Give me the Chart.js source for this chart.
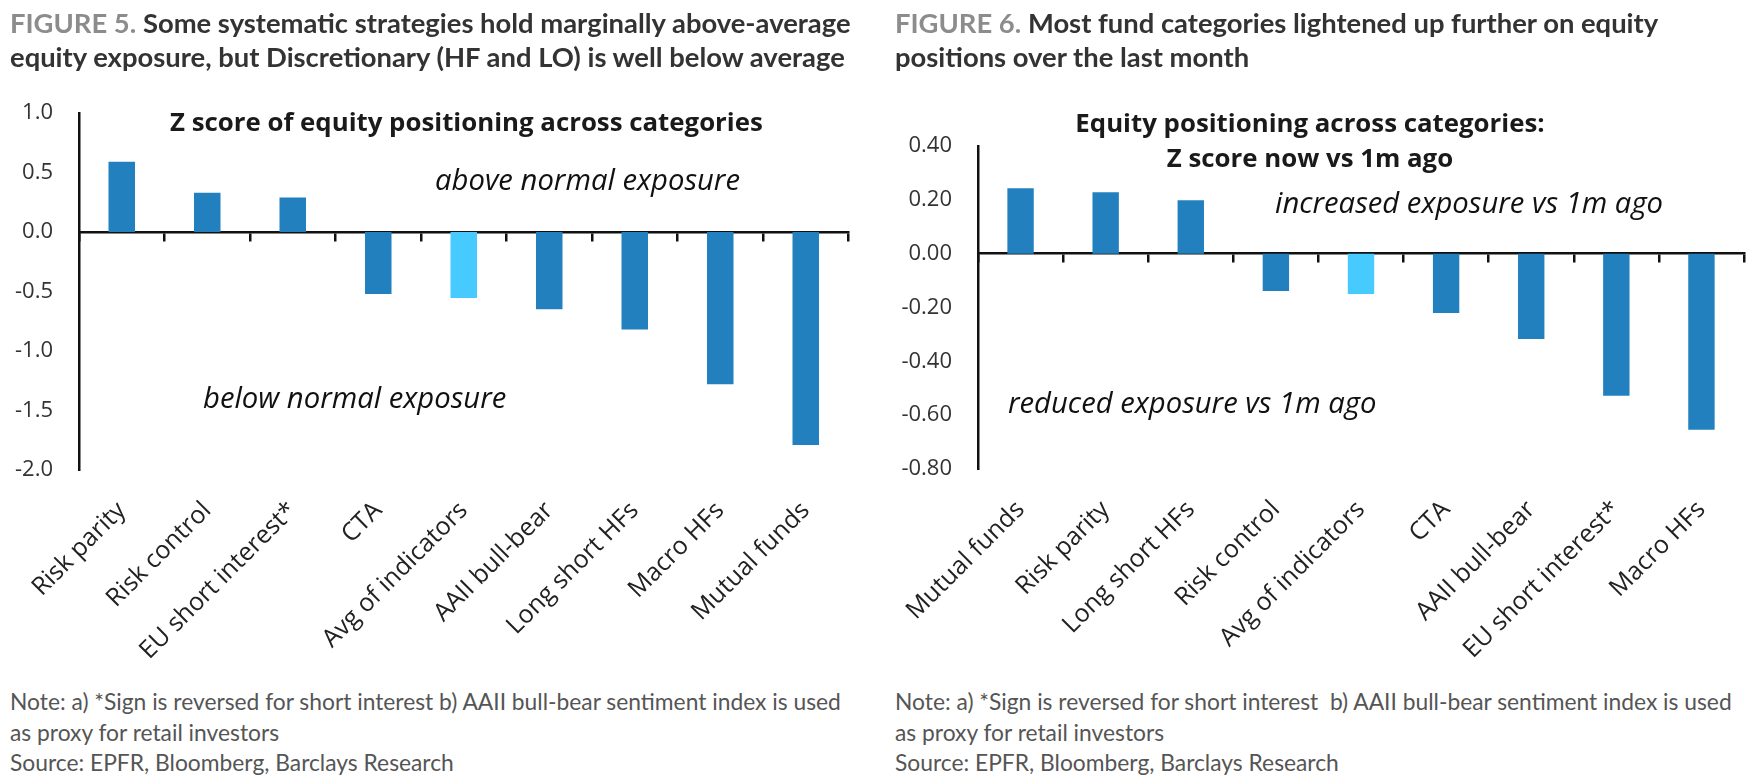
<!DOCTYPE html>
<html>
<head>
<meta charset="utf-8">
<script src="https://cdn.jsdelivr.net/npm/chart.js@4.4.1/dist/chart.umd.min.js"></script>
<style>
  html, body { margin:0; padding:0; background:#fff; }
  body { width:1756px; height:784px; position:relative; overflow:hidden; }
  .t { position:absolute; white-space:nowrap; line-height:1; transform:translateY(-50%); }
  .title { font-family:"Lato", "Roboto", sans-serif; font-weight:700; color:#333; }
  .title .fig { color:#8c8c8c; }
  .inner { font-family:"Open Sans", sans-serif; font-weight:700; color:#1a1a1a; }
  .ann { font-family:"Open Sans", sans-serif; font-style:italic; color:#111; }
  .note { font-family:"Lato", sans-serif; color:#555; }
  canvas { position:absolute; top:0; }
</style>
</head>
<body>
<canvas id="c1" width="870" height="670" style="left:0px;width:870px;height:670px"></canvas>
<canvas id="c2" width="876" height="670" style="left:880px;width:876px;height:670px"></canvas>

<div class="t title" id="t1a" style="left:10px;top:23px"><span class="fig">FIGURE 5.</span> Some systematic strategies hold marginally above-average</div>
<div class="t title" id="t1b" style="left:10px;top:57px">equity exposure, but Discretionary (HF and LO) is well below average</div>
<div class="t title" id="t2a" style="left:895px;top:23px"><span class="fig">FIGURE 6.</span> Most fund categories lightened up further on equity</div>
<div class="t title" id="t2b" style="left:895px;top:57px">positions over the last month</div>

<div class="t inner" id="i1" style="left:170px;top:122px">Z score of equity positioning across categories</div>
<div class="t inner" id="i2a" style="left:1310px;top:123px">Equity positioning across categories:</div>
<div class="t inner" id="i2b" style="left:1310px;top:158px">Z score now vs 1m ago</div>

<div class="t ann" id="a1" style="left:435px;top:180px">above normal exposure</div>
<div class="t ann" id="a2" style="left:203px;top:398px">below normal exposure</div>
<div class="t ann" id="a3" style="left:1275px;top:203px">increased exposure vs 1m ago</div>
<div class="t ann" id="a4" style="left:1008px;top:403px">reduced exposure vs 1m ago</div>

<div class="t note" id="n1" style="left:10px;top:701px">Note: a) *Sign is reversed for short interest b) AAII bull-bear sentiment index is used</div>
<div class="t note" id="n2" style="left:10px;top:732px">as proxy for retail investors</div>
<div class="t note" id="n3" style="left:10px;top:762px">Source: EPFR, Bloomberg, Barclays Research</div>
<div class="t note" id="n4" style="left:895px;top:701px">Note: a) *Sign is reversed for short interest&nbsp; b) AAII bull-bear sentiment index is used</div>
<div class="t note" id="n5" style="left:895px;top:732px">as proxy for retail investors</div>
<div class="t note" id="n6" style="left:895px;top:762px">Source: EPFR, Bloomberg, Barclays Research</div>

<script>
// ---- data ----
const categories1 = ['Risk parity','Risk control','EU short interest*','CTA','Avg of indicators','AAII bull-bear','Long short HFs','Macro HFs','Mutual funds'];
const values1 = [0.59, 0.33, 0.29, -0.52, -0.555, -0.65, -0.82, -1.28, -1.79];
const yMin1 = -2.0, yMax1 = 1.0, yStep1 = 0.5;

const categories2 = ['Mutual funds','Risk parity','Long short HFs','Risk control','Avg of indicators','CTA','AAII bull-bear','EU short interest*','Macro HFs'];
const values2 = [0.243, 0.228, 0.198, -0.139, -0.15, -0.22, -0.317, -0.528, -0.654];
const yMin2 = -0.8, yMax2 = 0.4, yStep2 = 0.2;

const highlight = 'Avg of indicators';

// ---- text fitting ----
function fitSize(id, width, base) {
  const el = document.getElementById(id);
  el.style.fontSize = base + 'px';
  const w = el.getBoundingClientRect().width;
  return base * width / w;
}
function setSize(ids, size) { ids.forEach(id => document.getElementById(id).style.fontSize = size + 'px'); }
setSize(['t1a','t1b','t2a','t2b'], fitSize('t1a', 841, 26));
setSize(['i1','i2a','i2b'], fitSize('i1', 593, 24));
setSize(['a1','a2','a3','a4'], fitSize('a1', 305, 26));
setSize(['n1','n2','n3','n4','n5','n6'], fitSize('n1', 831, 21));
['i2a','i2b'].forEach(id => {
  const el = document.getElementById(id);
  el.style.transform = 'translate(-50%,-50%)';
});

// ---- charts ----
const DARK = '#2180BD', LIGHT = '#47CBFF';
Chart.defaults.font.family = '"Open Sans", sans-serif';
Chart.defaults.color = '#333';

function makeChart(id, cats, vals, yMin, yMax, yStep, decimals, yAxisWidth, padRight, padTop, xHeight) {
  const colors = cats.map(c => c === highlight ? LIGHT : DARK);
  return new Chart(document.getElementById(id), {
    type: 'bar',
    data: {
      labels: cats,
      datasets: [{ data: vals, backgroundColor: colors, borderWidth: 0,
                   categoryPercentage: 1.0, barPercentage: 0.31, xAxisID: 'x', yAxisID: 'y' }]
    },
    options: {
      responsive: false, animation: false, devicePixelRatio: 1,
      layout: { padding: { top: padTop, right: padRight, left: 0, bottom: 0 } },
      plugins: { legend: { display: false }, tooltip: { enabled: false }, title: { display: false } },
      scales: {
        x: {
          type: 'category', position: 'bottom', offset: true,
          grid: { display: false, offset: true },
          border: { display: false },
          ticks: { autoSkip: false, minRotation: 45, maxRotation: 45, padding: 18,
                   font: { size: 25 }, color: '#222' },
          afterFit: s => { s.height = xHeight; }
        },
        x0: {
          type: 'category', position: { y: 0 }, offset: true, z: 1,
          grid: { display: true, offset: true, drawOnChartArea: false, drawTicks: true,
                  tickLength: 8, color: '#111', lineWidth: 2.5 },
          border: { display: true, color: '#111', width: 2.5 },
          ticks: { display: false }
        },
        y: {
          min: yMin, max: yMax,
          grid: { display: false, drawTicks: false },
          border: { display: true, color: '#111', width: 2.5 },
          ticks: { stepSize: yStep, padding: 26, font: { size: 22 }, color: '#333',
                   callback: v => Number(v).toFixed(decimals) },
          afterFit: s => { s.width = yAxisWidth; }
        }
      }
    }
  });
}

makeChart('c1', categories1, values1, yMin1, yMax1, yStep1, 1, 79, 21.5, 113, 200);
makeChart('c2', categories2, values2, yMin2, yMax2, yStep2, 2, 98, 12, 146, 201);
</script>
</body>
</html>
